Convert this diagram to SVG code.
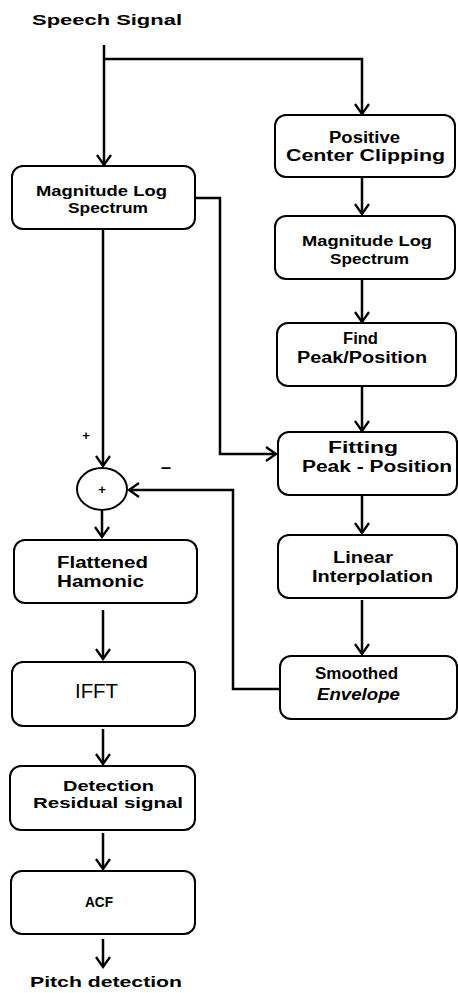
<svg xmlns="http://www.w3.org/2000/svg" width="458" height="993" viewBox="0 0 458 993">
<style>
.box{fill:#fff;stroke:#000;stroke-width:2}
.ln{fill:none;stroke:#000;stroke-width:2.5}
.t{font-family:"Liberation Sans",Arial,sans-serif;font-weight:bold;fill:#000}
.m{font-family:"Liberation Sans",Arial,sans-serif;font-weight:bold;fill:#000}
</style>
<defs>
<marker id="ar" markerUnits="userSpaceOnUse" markerWidth="14" markerHeight="18" refX="0" refY="0" viewBox="-12 -9 14 18" orient="auto" overflow="visible">
<path d="M-10,-7 L0,0 L-10,7" fill="none" stroke="#000" stroke-width="2.3"/>
</marker>
</defs>
<rect width="458" height="993" fill="#fff"/>
<text class="t" x="32" y="25" font-size="15" textLength="150" lengthAdjust="spacingAndGlyphs">Speech Signal</text>
<g id="connectors">
<path class="ln" d="M104,45 V165" marker-end="url(#ar)"/>
<path class="ln" d="M104,59 H362 V114" marker-end="url(#ar)"/>
<path class="ln" d="M362,177 V214" marker-end="url(#ar)"/>
<path class="ln" d="M362,279 V322" marker-end="url(#ar)"/>
<path class="ln" d="M362,386 V431" marker-end="url(#ar)"/>
<path class="ln" d="M362,495 V533" marker-end="url(#ar)"/>
<path class="ln" d="M362,600 V654" marker-end="url(#ar)"/>
<path class="ln" d="M195,198 H220 V454 H276" marker-end="url(#ar)"/>
<path class="ln" d="M103,229 V466" marker-end="url(#ar)"/>
<path class="ln" d="M280,689 H233 V490 H129" marker-end="url(#ar)"/>
<path class="ln" d="M102,511 V537" marker-end="url(#ar)"/>
<path class="ln" d="M103,610 V659" marker-end="url(#ar)"/>
<path class="ln" d="M103,729 V764" marker-end="url(#ar)"/>
<path class="ln" d="M103,833 V869" marker-end="url(#ar)"/>
<path class="ln" d="M103,939 V967" marker-end="url(#ar)"/>
</g>
<g id="mag1">
<rect class="box" x="12" y="166" width="183" height="63" rx="11"/>
<text class="m" x="36" y="196" font-size="15" textLength="131" lengthAdjust="spacingAndGlyphs">Magnitude Log</text>
<text class="m" x="68" y="213" font-size="15" textLength="80" lengthAdjust="spacingAndGlyphs">Spectrum</text>
</g>
<g id="positive">
<rect class="box" x="275" y="115" width="180" height="62" rx="11"/>
<text class="t" x="329" y="143" font-size="16" textLength="71" lengthAdjust="spacingAndGlyphs">Positive</text>
<text class="t" x="286" y="161" font-size="16" textLength="159" lengthAdjust="spacingAndGlyphs">Center Clipping</text>
</g>
<g id="mag2">
<rect class="box" x="275" y="216" width="180" height="63" rx="11"/>
<text class="m" x="302" y="246" font-size="15" textLength="130" lengthAdjust="spacingAndGlyphs">Magnitude Log</text>
<text class="m" x="330" y="264" font-size="15" textLength="79" lengthAdjust="spacingAndGlyphs">Spectrum</text>
</g>
<g id="find">
<rect class="box" x="277" y="323" width="179" height="63" rx="11"/>
<text class="t" x="343" y="344" font-size="16" textLength="35" lengthAdjust="spacingAndGlyphs">Find</text>
<text class="t" x="297" y="363" font-size="16" textLength="130" lengthAdjust="spacingAndGlyphs">Peak/Position</text>
</g>
<g id="fitting">
<rect class="box" x="278" y="432" width="179" height="63" rx="11"/>
<text class="m" x="328" y="453" font-size="16" textLength="70" lengthAdjust="spacingAndGlyphs">Fitting</text>
<text class="m" x="302" y="472" font-size="16" textLength="150" lengthAdjust="spacingAndGlyphs">Peak - Position</text>
</g>
<g id="linear">
<rect class="box" x="278" y="535" width="179" height="63" rx="11"/>
<text class="t" x="333" y="563" font-size="16" textLength="60" lengthAdjust="spacingAndGlyphs">Linear</text>
<text class="t" x="312" y="582" font-size="16" textLength="121" lengthAdjust="spacingAndGlyphs">Interpolation</text>
</g>
<g id="smoothed">
<rect class="box" x="280" y="656" width="177" height="63" rx="11"/>
<text class="t" x="315" y="679" font-size="17" textLength="83" lengthAdjust="spacingAndGlyphs">Smoothed</text>
<text class="t" x="317" y="700" font-size="17" font-style="italic" textLength="83" lengthAdjust="spacingAndGlyphs">Envelope</text>
</g>
<g id="sum">
<ellipse cx="102" cy="489" rx="25" ry="21" fill="#fff" stroke="#000" stroke-width="2"/>
<text class="t" x="102" y="494" font-size="13" text-anchor="middle">+</text>
<text class="t" x="86" y="440" font-size="13" text-anchor="middle">+</text>
<text class="t" x="166" y="473" font-size="18" text-anchor="middle">–</text>
</g>
<g id="flattened">
<rect class="box" x="14" y="540" width="183" height="63" rx="11"/>
<text class="t" x="57" y="568" font-size="16" textLength="91" lengthAdjust="spacingAndGlyphs">Flattened</text>
<text class="t" x="57" y="587" font-size="16" textLength="87" lengthAdjust="spacingAndGlyphs">Hamonic</text>
</g>
<g id="ifft">
<rect class="box" x="12" y="662" width="183" height="64" rx="11"/>
<text x="75" y="698" font-family="Liberation Sans,Arial,sans-serif" font-size="21" textLength="43" lengthAdjust="spacingAndGlyphs">IFFT</text>
</g>
<g id="detection">
<rect class="box" x="10" y="766" width="185" height="64" rx="11"/>
<text class="m" x="63" y="791" font-size="15" textLength="91" lengthAdjust="spacingAndGlyphs">Detection</text>
<text class="m" x="33" y="808" font-size="15" textLength="150" lengthAdjust="spacingAndGlyphs">Residual signal</text>
</g>
<g id="acf">
<rect class="box" x="11" y="871" width="184" height="63" rx="11"/>
<text class="m" x="85" y="907" font-size="15" textLength="28" lengthAdjust="spacingAndGlyphs">ACF</text>
</g>
<text class="m" x="30" y="987" font-size="15" textLength="152" lengthAdjust="spacingAndGlyphs">Pitch detection</text>
</svg>
